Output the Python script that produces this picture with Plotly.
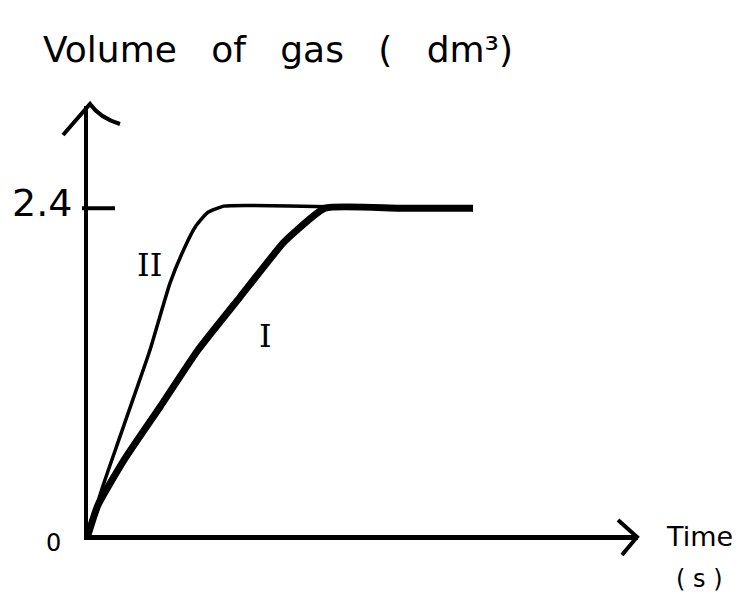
import plotly.graph_objects as go

# ---- data (time in arbitrary units, volume in dm^3) ----
time_II = [0, 0.35, 0.725, 1.2, 1.55, 2.05, 2.4, 2.7, 3.0, 3.4, 4.0, 6.0, 9.625]
vol_II = [0, 0.34, 0.66, 1.06, 1.358, 1.85, 2.10, 2.27, 2.37, 2.415, 2.42, 2.41, 2.405]

time_I = [0, 0.25, 0.9, 1.8, 2.75, 3.8, 4.875, 5.225, 5.925, 7.8, 9.625]
vol_I = [0, 0.22, 0.55, 0.94, 1.358, 1.747, 2.143, 2.239, 2.40, 2.40, 2.40]

y_tick_vals = [0, 2.4]
y_tick_text = ["0", "2.4"]

FONT = "DejaVu Sans"
NB = "\u00a0"

fig = go.Figure()
fig.add_trace(go.Scatter(x=time_II, y=vol_II, mode="lines", name="II",
                         line=dict(color="black", width=3.5, shape="spline", smoothing=0.5),
                         showlegend=False, hoverinfo="skip"))
fig.add_trace(go.Scatter(x=time_I, y=vol_I, mode="lines", name="I",
                         line=dict(color="black", width=7, shape="spline", smoothing=0.5),
                         showlegend=False, hoverinfo="skip"))

def px(x):
    return (x - 88) / 550.0

def py(y):
    return (535 - y) / 429.0

shapes = [
    # y-axis arrowhead
    dict(type="path", xref="paper", yref="paper",
         path=f"M {px(63)},{py(135)} L {px(90)},{py(104)} Q {px(100)},{py(118)} {px(120)},{py(124)}",
         line=dict(color="black", width=4)),
    # x-axis arrowhead
    dict(type="path", xref="paper", yref="paper",
         path=f"M {px(618)},{py(520)} L {px(637)},{py(537)} L {px(622)},{py(555)}",
         line=dict(color="black", width=4)),
    # 2.4 tick crossing the axis
    dict(type="line", xref="paper", yref="y", x0=px(82), x1=px(115), y0=2.4, y1=2.4,
         line=dict(color="black", width=4)),
]

annotations = [
    dict(x=px(278), y=py(50), xref="paper", yref="paper",
         text=f"Volume{NB*3}of{NB*3}gas{NB*3}({NB*3}dm³)", showarrow=False,
         font=dict(family=FONT, size=36, color="black"), xanchor="center", yanchor="middle"),
    dict(x=px(699), y=py(536), xref="paper", yref="paper", text="Time", showarrow=False,
         font=dict(family=FONT, size=27, color="black"), xanchor="center", yanchor="middle"),
    dict(x=px(699), y=py(579), xref="paper", yref="paper", text=f"({NB}s{NB})", showarrow=False,
         font=dict(family=FONT, size=24, color="black"), xanchor="center", yanchor="middle"),
    dict(x=px(149), y=py(265), xref="paper", yref="paper", text="II", showarrow=False,
         font=dict(family="DejaVu Serif", size=32, color="black"), xanchor="center", yanchor="middle"),
    dict(x=px(265), y=py(336), xref="paper", yref="paper", text="I", showarrow=False,
         font=dict(family="DejaVu Serif", size=32, color="black"), xanchor="center", yanchor="middle"),
]

# y tick labels (hand-placed beside the axis)
label_dx = {"0": -35, "2.4": -46}
label_dy = {"0": 8, "2.4": -5}
label_size = {"0": 24, "2.4": 38}
for v, t in zip(y_tick_vals, y_tick_text):
    annotations.append(dict(x=0, y=v, xref="paper", yref="y", text=t, showarrow=False,
                            xshift=label_dx[t], yshift=-label_dy[t],
                            font=dict(family=FONT, size=label_size[t], color="black"),
                            xanchor="center", yanchor="middle"))

fig.update_layout(
    width=741, height=594,
    margin=dict(l=88, r=103, t=106, b=59),
    paper_bgcolor="white", plot_bgcolor="white",
    shapes=shapes, annotations=annotations,
    xaxis=dict(range=[0, 13.75], showgrid=False, zeroline=False, showticklabels=False,
               ticks="", showline=True, linecolor="black", linewidth=5, fixedrange=True),
    yaxis=dict(range=[0, 3.15], showgrid=False, zeroline=False, showticklabels=False,
               ticks="", showline=True, linecolor="black", linewidth=4, fixedrange=True),
)

fig.write_html("out.html", config={"displayModeBar": False},
               post_script="document.body.style.margin='0';")
